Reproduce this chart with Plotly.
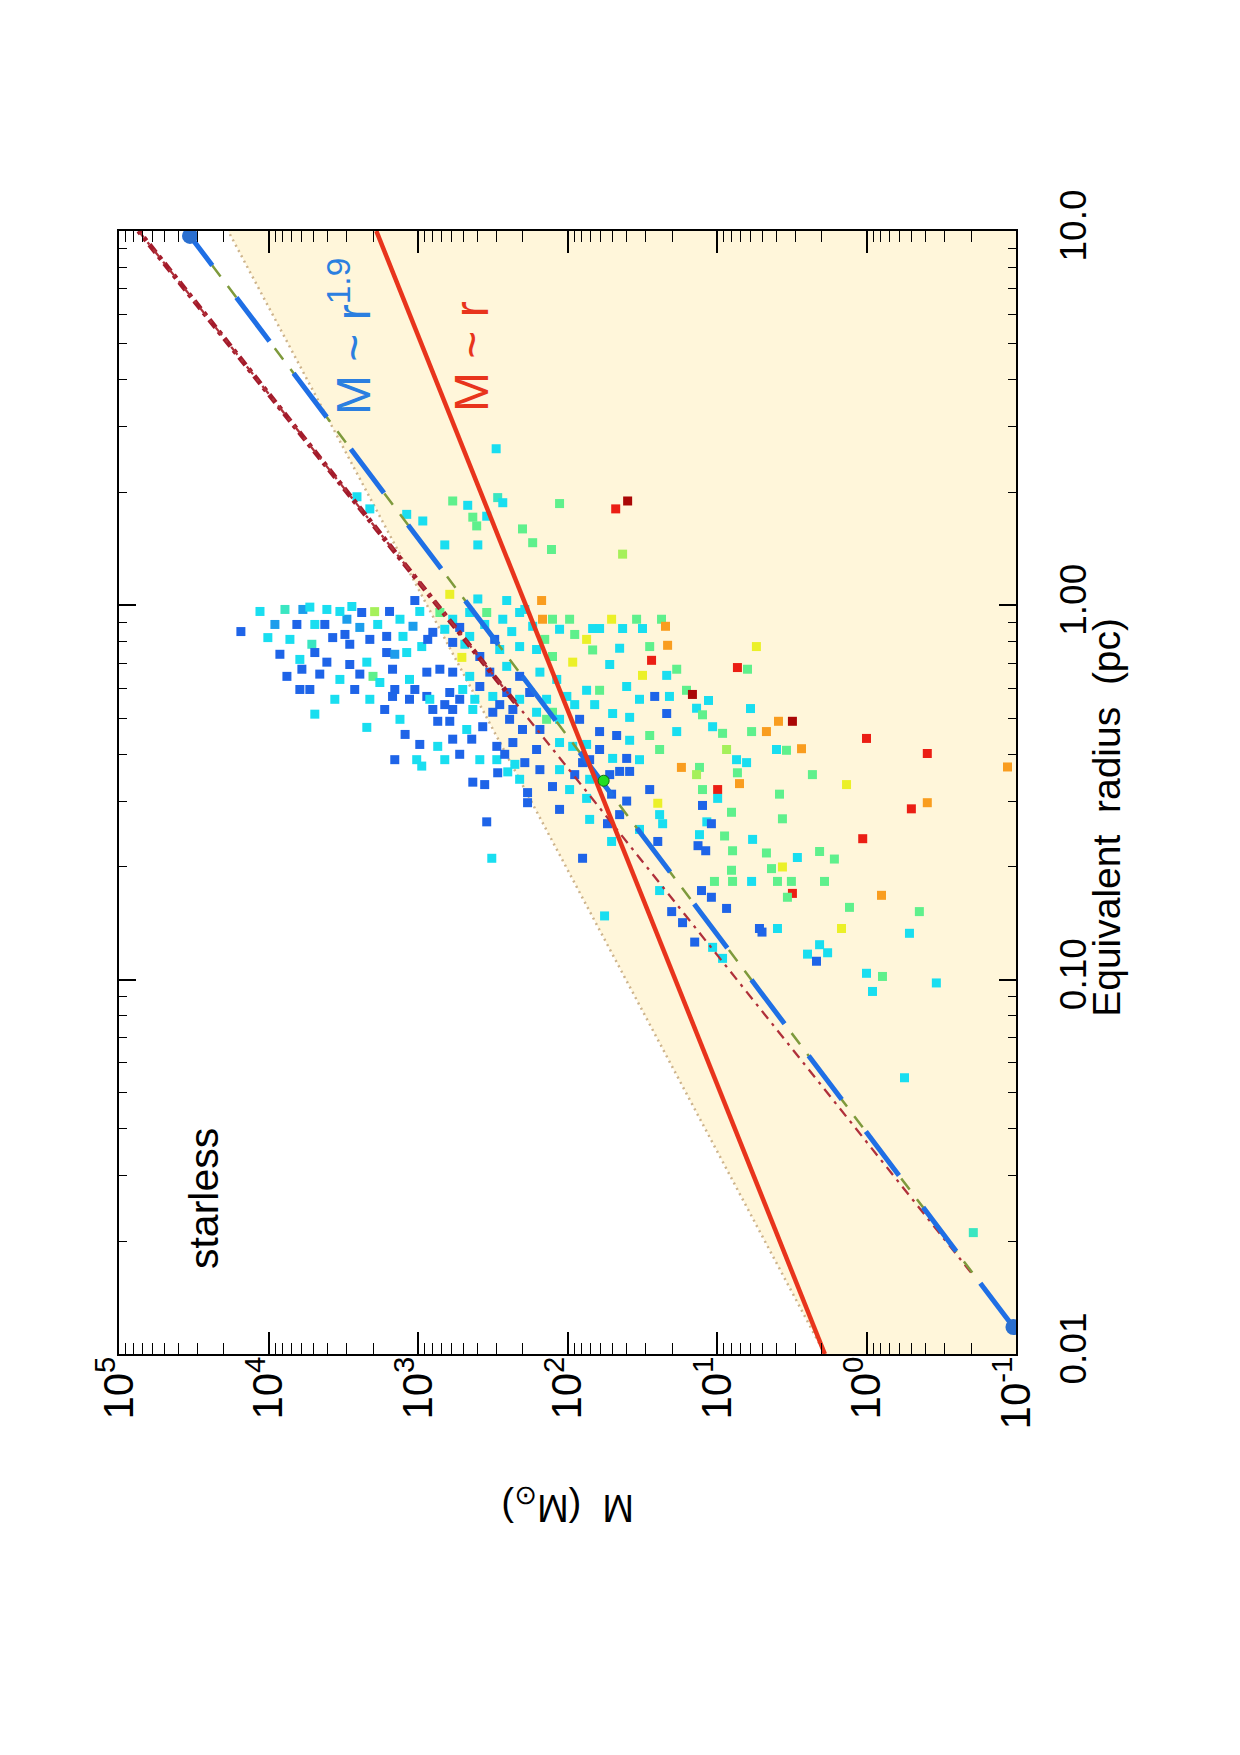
import plotly.graph_objects as go

# ---------------- data ----------------
mass = [
    300, 586, 465, 293, 271, 113, 430, 405, 347, 200,
    171, 128, 929, 1190, 2560, 2100, 662, 398, 613, 398,
    255, 149, 147, 1050, 15300, 10100, 7760, 5890, 6460, 4900,
    4070, 2770, 2380, 1950, 2990, 3720, 2860, 2100, 5130, 4900,
    4070, 2860, 2200, 1620, 1260, 1080, 1620, 1190, 944, 796,
    714, 586, 451, 347, 271, 209, 171, 126, 96.8, 586,
    451, 509, 386, 284, 209, 161, 126, 92.3, 7530, 5980,
    6170, 2450, 2000, 1800, 1480, 1430, 1140, 873, 714, 586,
    451, 331, 255, 209, 153, 118, 1480, 1140, 873, 613,
    502, 386, 316, 255, 179, 138, 101, 796, 586, 430,
    316, 232, 161, 126, 4900, 2200, 738, 613, 472, 369,
    244, 200, 138, 586, 437, 297, 232, 161, 738, 1020,
    944, 297, 193, 113, 92.3, 293, 251, 430, 358, 209,
    185, 126, 96.8, 347, 321, 185, 47.6, 39.6, 42.8, 50.7,
    34.5, 23.5, 22.1, 21.4, 27.4, 74.5, 67.9, 61, 42.8, 31.5,
    28.2, 44.8, 67.9, 52.2, 21.7, 18.6, 31.5, 40.2, 61, 74.5,
    33, 26.1, 20.8, 16, 14.6, 11.4, 13.7, 49.9, 38.4, 61,
    46.9, 38.4, 28.2, 24.2, 18.6, 21.7, 74.5, 61, 49.9, 40.2,
    44.8, 38.4, 79.3, 74.5, 50.7, 40.2, 5.45, 7.3, 6.25, 5.97,
    12.5, 10.7, 9.18, 8.63, 7.4, 6.34, 5.87, 4.67, 3.88, 3.13,
    4.0, 3.43, 2.72, 2.30, 1.36, 1.0, 0.392, 0.114, 24.9, 24.2,
    23.1, 24.9, 12.5, 11.7, 10.9, 9.9, 9.9, 13.1, 13.7, 12.5,
    17.3, 7.07, 7.3, 8.0, 13.1, 8.9, 7.87, 13.4, 11.9, 5.78,
    3.82, 3.65, 4.67, 2.9, 2.06, 1.64, 3.65, 4.32, 8.0, 10.4,
    7.87, 5.87, 3.94, 3.18, 1.91, 3.13, 3.38, 12.7, 10.9, 8.63,
    1.30, 0.794, 0.443, 0.516, 1.47, 5.2, 5.0, 3.94, 20.1, 17.0,
    14.1, 10.7, 9.18, 24.2, 56.5, 79.3, 50.7, 54, 2.48, 2.06,
    1.82, 2.16, 1.0, 0.782, 0.912, 0.341, 0.557, 0.193, 0.501, 0.392, 1.06,
    11400, 9060, 7190, 5290, 4200, 3330, 3080, 2450, 1860, 1550,
    1320, 1430, 973, 861, 662, 526, 486, 358, 307, 236,
    193, 142, 113, 89.5, 8390, 6170, 4540, 3330, 2650, 2100,
    1670, 1320, 1050, 834, 662, 526, 417, 284, 209, 153,
    113, 89.5, 1220, 973, 662, 526, 386, 263, 225, 153,
    113, 89.5, 71.1, 83, 65.8, 71.1, 52.2, 33, 28.2, 44.8,
    33, 71.1, 113, 3600, 5290, 1430,
]

radius = [
    2.62, 1.90, 1.85, 1.94, 1.88, 1.87, 1.72, 1.63, 1.73, 1.60,
    1.47, 1.41, 1.68, 1.75, 1.95, 1.81, 1.45, 1.45, 1.07, 1.04,
    1.03, 1.03, 0.918, 1.03, 0.851, 0.820, 0.975, 0.975, 0.889, 0.889,
    0.975, 0.993, 0.957, 0.962, 0.918, 0.820, 0.787, 0.811, 0.787, 0.748,
    0.705, 0.695, 0.705, 0.826, 0.826, 0.879, 0.748, 0.748, 0.776, 0.847,
    0.957, 0.918, 0.957, 0.957, 0.918, 0.957, 0.879, 0.918, 0.918, 0.796,
    0.826, 0.726, 0.730, 0.762, 0.776, 0.762, 0.730, 0.705, 0.646, 0.675,
    0.596, 0.655, 0.646, 0.622, 0.675, 0.596, 0.634, 0.663, 0.675, 0.663,
    0.646, 0.663, 0.687, 0.646, 0.663, 0.634, 0.571, 0.561, 0.571, 0.585,
    0.596, 0.607, 0.571, 0.585, 0.585, 0.561, 0.571, 0.527, 0.527, 0.527,
    0.518, 0.527, 0.518, 0.518, 0.512, 0.472, 0.490, 0.490, 0.466, 0.474,
    0.496, 0.466, 0.496, 0.439, 0.439, 0.420, 0.430, 0.412, 0.420, 0.387,
    0.372, 0.387, 0.380, 0.430, 0.420, 0.357, 0.359, 0.337, 0.332, 0.343,
    0.316, 0.328, 0.322, 0.264, 0.211, 0.297, 1.81, 1.90, 1.37, 0.918,
    0.918, 0.918, 0.879, 0.782, 0.713, 0.811, 0.867, 0.867, 0.867, 0.867,
    0.776, 0.768, 0.760, 0.695, 0.650, 0.675, 0.650, 0.607, 0.593, 0.593,
    0.561, 0.571, 0.571, 0.593, 0.578, 0.557, 0.531, 0.514, 0.502, 0.460,
    0.449, 0.436, 0.449, 0.412, 0.460, 0.514, 0.425, 0.412, 0.390, 0.390,
    0.360, 0.360, 0.380, 0.305, 0.313, 0.300, 0.776, 0.682, 0.675, 0.530,
    0.510, 0.474, 0.455, 0.412, 0.387, 0.380, 0.460, 0.460, 0.490, 0.490,
    0.412, 0.410, 0.414, 0.353, 0.332, 0.441, 0.402, 0.370, 0.296, 0.276,
    0.261, 0.234, 0.292, 0.264, 0.261, 0.322, 0.305, 0.369, 0.353, 0.322,
    0.369, 0.334, 0.357, 0.280, 0.244, 0.242, 0.221, 0.228, 0.221, 0.237,
    0.313, 0.269, 0.218, 0.212, 0.220, 0.210, 0.200, 0.198, 0.196, 0.183,
    0.183, 0.183, 0.183, 0.183, 0.183, 0.170, 0.166, 0.173, 0.166, 0.155,
    0.156, 0.168, 0.152, 0.133, 0.137, 0.137, 0.134, 0.137, 0.152, 0.142,
    0.126, 0.122, 0.114, 0.173, 0.148, 0.211, 0.234, 0.261, 0.117, 0.124,
    0.118, 0.112, 0.104, 0.102, 0.093, 0.098, 0.0547, 0.0211, 0.286, 0.297, 0.238,
    0.963, 0.889, 0.811, 0.989, 0.889, 0.963, 0.836, 0.873, 0.889, 0.963,
    0.918, 0.740, 0.963, 0.811, 0.863, 0.873, 0.787, 0.889, 0.811, 0.851,
    0.975, 0.811, 0.863, 0.836, 0.740, 0.717, 0.655, 0.634, 0.596, 0.561,
    0.527, 0.496, 0.596, 0.561, 0.543, 0.561, 0.561, 0.543, 0.561, 0.466,
    0.496, 0.543, 0.452, 0.425, 0.387, 0.400, 0.387, 0.400, 0.376, 0.364,
    0.364, 0.353, 0.343, 0.496, 0.543, 0.387, 0.353, 0.387, 0.322, 0.276,
    0.252, 0.268, 0.285, 0.561, 0.596, 0.387,
]

colour_class = [
    "C", "G", "C", "GC", "C", "G", "G", "G", "C", "G",
    "G", "G", "C", "C", "C", "C", "C", "C", "Y", "C",
    "C", "O", "O", "B", "B", "C", "GC", "BC", "B", "C",
    "C", "C", "B", "YG", "BC", "B", "B", "B", "GC", "B",
    "B", "B", "C", "B", "C", "BC", "B", "C", "C", "B",
    "G", "C", "C", "G", "C", "C", "C", "G", "G", "B",
    "C", "Y", "B", "C", "C", "C", "G", "Y", "B", "B",
    "B", "B", "G", "C", "B", "B", "C", "B", "B", "B",
    "C", "B", "C", "B", "C", "C", "B", "B", "B", "B",
    "C", "B", "C", "B", "B", "C", "C", "B", "B", "C",
    "B", "B", "C", "G", "C", "C", "B", "B", "C", "B",
    "B", "B", "G", "B", "B", "B", "B", "B", "C", "C",
    "C", "C", "B", "C", "C", "B", "C", "B", "B", "C",
    "B", "B", "C", "B", "C", "B", "R", "DR", "YG", "Y",
    "G", "G", "O", "O", "R", "Y", "C", "C", "C", "C",
    "G", "C", "G", "C", "C", "G", "Y", "C", "G", "C",
    "C", "B", "C", "G", "DR", "C", "C", "C", "C", "B",
    "B", "C", "G", "G", "C", "B", "C", "B", "C", "B",
    "B", "B", "B", "C", "B", "B", "Y", "R", "G", "C",
    "G", "C", "G", "YG", "C", "C", "G", "O", "O", "DR",
    "C", "G", "O", "G", "Y", "R", "R", "O", "Y", "C",
    "C", "B", "B", "C", "B", "R", "C", "G", "YG", "G",
    "O", "O", "G", "G", "C", "G", "G", "B", "B", "C",
    "G", "G", "G", "C", "G", "G", "Y", "G", "G", "G",
    "G", "C", "G", "G", "G", "R", "G", "B", "B", "B",
    "G", "O", "G", "C", "Y", "B", "B", "C", "B", "B",
    "B", "C", "C", "C", "C", "B", "C", "B", "C", "C",
    "C", "B", "C", "G", "C", "C", "C", "GC", "R", "O", "R",
    "C", "BC", "C", "C", "B", "C", "B", "BC", "C", "B",
    "C", "BC", "C", "B", "C", "B", "C", "C", "B", "C",
    "C", "G", "C", "G", "B", "C", "B", "C", "B", "C",
    "B", "C", "B", "C", "B", "B", "C", "B", "C", "B",
    "C", "C", "B", "B", "C", "B", "C", "B", "C", "B",
    "C", "B", "C", "B", "C", "B", "B", "C", "B", "B",
    "C", "C", "B", "C", "B", "B",
]

CLASS_VALUE = {"B": 0.2, "BC": 0.27, "C": 0.35, "GC": 0.42, "G": 0.5,
               "YG": 0.56, "Y": 0.62, "O": 0.74, "R": 0.87, "DR": 0.97}

# reference lines (end points, r in pc, M in Msun)
lin_r = [0.01, 10.0]          # M ~ r
lin_m = [1.9, 1900.0]
fit_r = [0.0118, 9.7]         # M ~ r^1.9
fit_m = [0.104, 33500.0]
fit2_r = [0.0165, 9.7]        # companion dashed fit
fit2_m = [0.196, 33500.0]
sig_r = [0.0165, 10.0]        # M ~ r^2
sig_m = [0.20, 74000.0]
sig_thick_r = [0.55, 10.0]
sig_thick_m = [224.0, 74000.0]
kp_r = [0.01, 10.0]           # 870 r^1.33 threshold
kp_m = [1.9, 18600.0]
median_r = [0.340]
median_m = [57.3]

m_ticks = [1e5, 1e4, 1e3, 1e2, 1e1, 1, 0.1]
m_ticktext = ["10<sup>5</sup>", "10<sup>4</sup>", "10<sup>3</sup>", "10<sup>2</sup>",
              "10<sup>1</sup>", "10<sup>0</sup>", "10<sup>-1</sup>"]
r_ticks = [0.01, 0.1, 1, 10]
r_ticktext = ["0.01", "0.10", "1.00", "10.0"]
M_MIN, M_MAX = 0.1, 1e5
R_MIN, R_MAX = 0.01, 10.0

# ---------------- figure ----------------
colorscale = [
    [0.0, "rgb(20,40,200)"],
    [0.2, "rgb(30,100,232)"],
    [0.35, "rgb(25,222,240)"],
    [0.5, "rgb(95,240,140)"],
    [0.62, "rgb(235,240,40)"],
    [0.75, "rgb(250,150,30)"],
    [0.87, "rgb(235,30,20)"],
    [1.0, "rgb(150,0,0)"],
]

fig = go.Figure()

# shaded region below the threshold
fig.add_trace(go.Scatter(
    x=[kp_m[0], kp_m[1], M_MIN, M_MIN], y=[kp_r[0], kp_r[1], R_MAX, R_MIN],
    mode="lines", fill="toself", fillcolor="#FFF6DA", line=dict(width=0),
    hoverinfo="skip"))

fig.add_trace(go.Scatter(x=kp_m, y=kp_r, mode="lines",
                         line=dict(color="#CDB38B", width=2.5, dash="2px,4px")))

fig.add_trace(go.Scatter(
    x=mass, y=radius, mode="markers",
    marker=dict(symbol="square", size=9,
                color=[CLASS_VALUE[c] for c in colour_class],
                colorscale=colorscale, cmin=0, cmax=1,
                line=dict(width=0))))

fig.add_trace(go.Scatter(x=sig_thick_m, y=sig_thick_r, mode="lines",
                         line=dict(color="#A31B2B", width=5, dash="10px,5px,4px,5px")))
fig.add_trace(go.Scatter(x=sig_m, y=sig_r, mode="lines",
                         line=dict(color="#B0303A", width=2.3, dash="10px,6px,3px,6px")))
fig.add_trace(go.Scatter(x=fit2_m, y=fit2_r, mode="lines",
                         line=dict(color="#7E9A3C", width=2.5, dash="14px,12px")))
fig.add_trace(go.Scatter(x=fit_m, y=fit_r, mode="lines",
                         line=dict(color="#1F6FE5", width=5, dash="55px,40px")))
fig.add_trace(go.Scatter(x=lin_m, y=lin_r, mode="lines",
                         line=dict(color="#E8341C", width=4.5)))
fig.add_trace(go.Scatter(x=fit_m, y=fit_r, mode="markers",
                         marker=dict(color="#2A6FD0", size=16, symbol="circle")))
fig.add_trace(go.Scatter(x=median_m, y=median_r, mode="markers",
                         marker=dict(color="#22DD22", size=11, symbol="circle",
                                     line=dict(color="#116611", width=1))))

font_main = "Liberation Sans, Arial, Helvetica, sans-serif"

fig.update_layout(
    width=1240, height=1755, autosize=False,
    margin=dict(l=119, r=224, t=231, b=401, pad=0),
    paper_bgcolor="white", plot_bgcolor="white",
    showlegend=False,
    font=dict(family=font_main, color="black"),
)

fig.update_xaxes(
    type="log", range=[5, -1],
    tickmode="array", tickvals=m_ticks, ticktext=m_ticktext,
    tickangle=-90, tickfont=dict(size=42, family=font_main, color="black"),
    ticks="inside", ticklen=22, tickwidth=1.5, tickcolor="black",
    ticklabelstandoff=-16,
    showline=True, linecolor="black", linewidth=1.5, mirror="ticks",
    showgrid=False, zeroline=False,
    minor=dict(ticks="inside", ticklen=11, tickwidth=1.3, tickcolor="black",
               dtick="D1", showgrid=False),
)

fig.update_yaxes(
    type="log", range=[-2, 1], side="right",
    tickmode="array", tickvals=r_ticks, ticktext=r_ticktext,
    tickangle=-90, tickfont=dict(size=37, family=font_main, color="black"),
    ticks="inside", ticklen=17, tickwidth=1.5, tickcolor="black",
    ticklabelstandoff=24,
    showline=True, linecolor="black", linewidth=1.5, mirror="ticks",
    showgrid=False, zeroline=False,
    minor=dict(ticks="inside", ticklen=8, tickwidth=1.3, tickcolor="black",
               dtick="D1", showgrid=False),
)

annotations = [
    dict(text="M ~ r<sup>1.9</sup>", x=0.2575, y=0.9065, textangle=-90,
         font=dict(size=48, color="#2B7FE0", family=font_main)),
    dict(text="M ~ r", x=0.3935, y=0.8887, textangle=-90,
         font=dict(size=48, color="#E8341C", family=font_main)),
    dict(text="starless", x=0.0948, y=0.138, textangle=-90,
         font=dict(size=41, color="black", family=font_main)),
    dict(text="M  (M<sub>⊙</sub>)", x=0.5006, y=-0.1345, textangle=180,
         font=dict(size=38, color="black", family=font_main)),
    dict(text="Equivalent  radius  (pc)", x=1.101, y=0.478, textangle=-90,
         font=dict(size=39, color="black", family=font_main)),
]
for a in annotations:
    fig.add_annotation(xref="paper", yref="paper", showarrow=False,
                       xanchor="center", yanchor="middle", **a)

fig.write_html("out.html")
